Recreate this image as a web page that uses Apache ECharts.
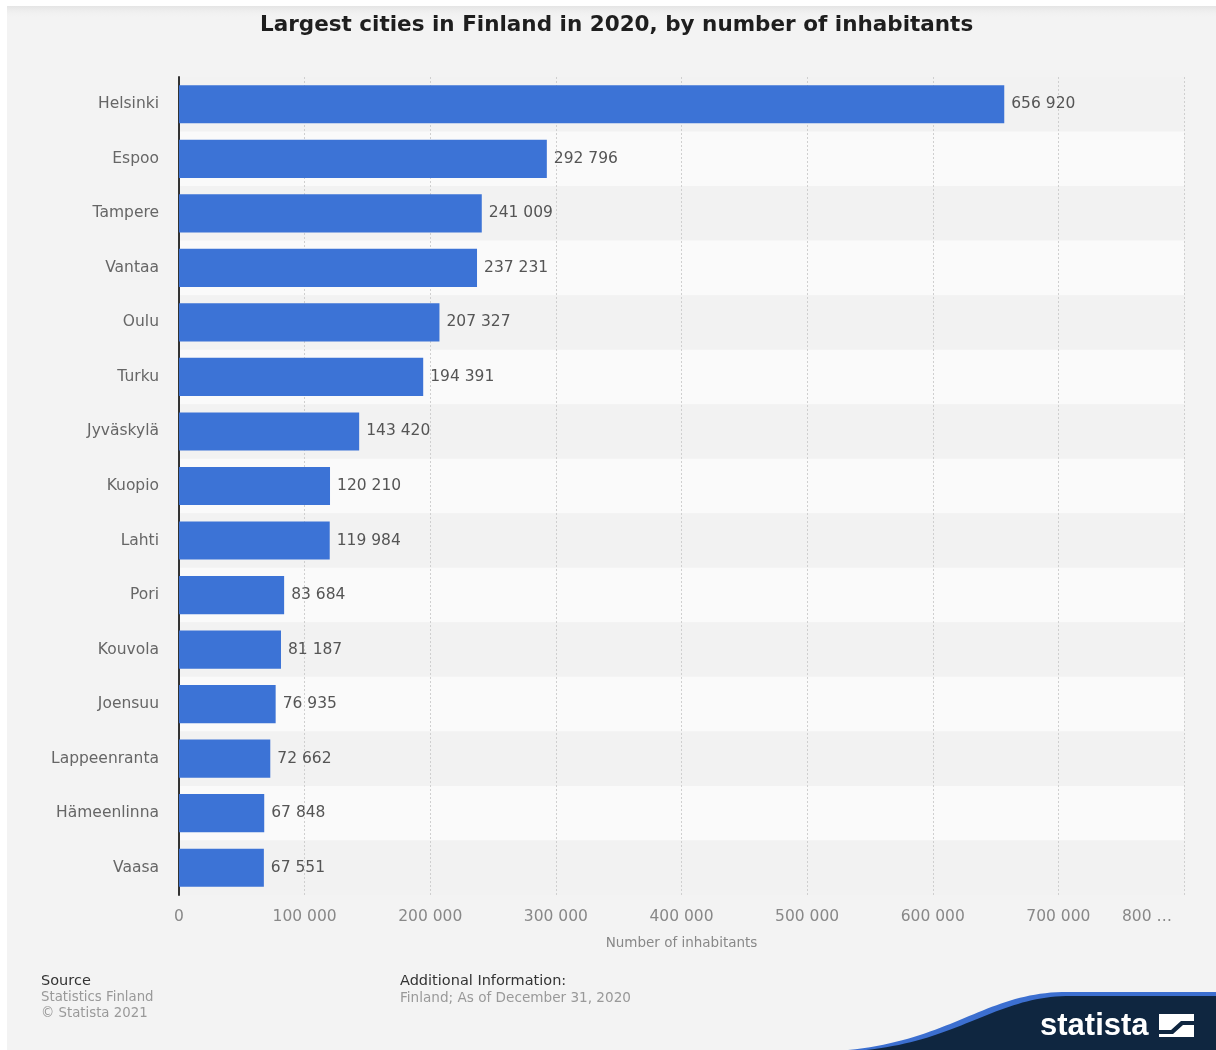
<!DOCTYPE html>
<html>
<head>
<meta charset="utf-8">
<title>Largest cities in Finland in 2020</title>
<script src="https://cdn.jsdelivr.net/npm/echarts@6/dist/echarts.min.js"></script>
<style>
  html, body { margin: 0; padding: 0; background: #ffffff; }
  #chart { width: 1216px; height: 1050px; }
</style>
</head>
<body>
<div id="chart"></div>
<script>
// City populations, 31 Dec 2020
const cities = ['Helsinki', 'Espoo', 'Tampere', 'Vantaa', 'Oulu', 'Turku', 'Jyväskylä', 'Kuopio',
  'Lahti', 'Pori', 'Kouvola', 'Joensuu', 'Lappeenranta', 'Hämeenlinna', 'Vaasa'];
const inhabitants = [656920, 292796, 241009, 237231, 207327, 194391, 143420, 120210,
  119984, 83684, 81187, 76935, 72662, 67848, 67551];
const axisMax = 800000;
const axisStep = 100000;

const FONT = '"DejaVu Sans", sans-serif';
const fmt = v => String(v).replace(/\B(?=(\d{3})+(?!\d))/g, ' ');

// Sample a cubic Bezier into a point list, for the brand corner wave
function bezierPoints(p0, p1, p2, p3, n) {
  const pts = [];
  for (let i = 0; i <= n; i++) {
    const t = i / n, u = 1 - t;
    pts.push([
      u * u * u * p0[0] + 3 * u * u * t * p1[0] + 3 * u * t * t * p2[0] + t * t * t * p3[0],
      u * u * u * p0[1] + 3 * u * u * t * p1[1] + 3 * u * t * t * p2[1] + t * t * t * p3[1]
    ]);
  }
  return pts;
}
const waveBlue = bezierPoints([848, 1050], [950, 1040], [985, 994], [1062, 992], 40)
  .concat([[1216, 992], [1216, 1050]]);
const waveNavy = bezierPoints([866, 1050], [960, 1040], [995, 998], [1066, 996], 40)
  .concat([[1216, 996], [1216, 1050]]);

const chart = echarts.init(document.getElementById('chart'), null, { renderer: 'canvas' });

chart.setOption({
  backgroundColor: '#f3f3f3',
  animation: false,
  title: {
    text: 'Largest cities in Finland in 2020, by number of inhabitants',
    left: 255,
    top: 9,
    textStyle: { fontFamily: FONT, fontWeight: 'bold', fontSize: 21.5, color: '#1e1e1e' }
  },
  grid: { left: 179, right: 32, top: 77, bottom: 155, containLabel: false },
  xAxis: {
    type: 'value',
    min: 0,
    max: axisMax,
    interval: axisStep,
    name: 'Number of inhabitants',
    nameLocation: 'middle',
    nameGap: 41,
    nameTextStyle: { fontFamily: FONT, fontSize: 13.5, color: '#888' },
    axisLine: { show: false },
    axisTick: { show: false },
    axisLabel: {
      margin: 14,
      fontFamily: FONT,
      fontSize: 15.5,
      color: '#888',
      formatter: v => (v === axisMax ? '{last|' + String(v / 1000) + ' …}' : fmt(v)),
      rich: {
        last: { fontFamily: FONT, fontSize: 15.5, color: '#888', padding: [0, 74, 0, 0] }
      }
    },
    splitLine: { show: true, lineStyle: { color: '#cfcfcf', type: [2, 2], width: 1 } }
  },
  yAxis: {
    type: 'category',
    data: cities,
    inverse: true,
    axisLine: { show: true, lineStyle: { color: '#333', width: 2 } },
    axisTick: { show: false },
    axisLabel: { margin: 20, fontFamily: FONT, fontSize: 15.5, color: '#666' },
    splitArea: { show: true, areaStyle: { color: ['#f2f2f2', '#fafafa'] } }
  },
  series: [{
    type: 'bar',
    data: inhabitants,
    barCategoryGap: '30%',
    itemStyle: { color: '#3c73d6' },
    label: {
      show: true,
      position: 'right',
      distance: 7,
      fontFamily: FONT,
      fontSize: 15.5,
      color: '#555',
      formatter: p => fmt(p.value)
    }
  }],
  graphic: [
    // frame edges and top shadow
    { type: 'rect', shape: { x: 0, y: 0, width: 1216, height: 6 }, style: { fill: '#ffffff' }, silent: true },
    { type: 'rect', shape: { x: 0, y: 0, width: 7, height: 1050 }, style: { fill: '#ffffff' }, silent: true },
    {
      type: 'rect', shape: { x: 7, y: 6, width: 1209, height: 12 }, silent: true,
      style: {
        fill: {
          type: 'linear', x: 0, y: 0, x2: 0, y2: 1,
          colorStops: [{ offset: 0, color: '#e4e4e4' }, { offset: 1, color: 'rgba(243,243,243,0)' }]
        }
      }
    },
    // source block
    { type: 'text', x: 41, y: 974, style: { text: 'Source', font: '14.5px ' + FONT, fill: '#333' } },
    { type: 'text', x: 41, y: 991, style: { text: 'Statistics Finland', font: '13.3px ' + FONT, fill: '#999' } },
    { type: 'text', x: 41, y: 1007, style: { text: '© Statista 2021', font: '13.3px ' + FONT, fill: '#999' } },
    { type: 'text', x: 400, y: 974, style: { text: 'Additional Information:', font: '14.5px ' + FONT, fill: '#333' } },
    { type: 'text', x: 400, y: 991, style: { text: 'Finland; As of December 31, 2020', font: '13.6px ' + FONT, fill: '#999' } },
    // brand corner
    { type: 'polygon', silent: true, shape: { points: waveBlue }, style: { fill: '#3c6fd0' } },
    { type: 'polygon', silent: true, shape: { points: waveNavy }, style: { fill: '#0f2640' } },
    { type: 'text', x: 1040, y: 1011, style: { text: 'statista', font: 'bold 31px "Liberation Sans", Arial, sans-serif', fill: '#ffffff' } },
    { type: 'rect', shape: { x: 1159, y: 1014, width: 35, height: 23 }, style: { fill: '#ffffff' }, silent: true },
    {
      type: 'polygon', silent: true,
      shape: { points: [[1159, 1030], [1171, 1030], [1181, 1021], [1194, 1021], [1194, 1025], [1183, 1025], [1173, 1034], [1159, 1034]] },
      style: { fill: '#0f2640' }
    }
  ]
});
</script>
</body>
</html>
